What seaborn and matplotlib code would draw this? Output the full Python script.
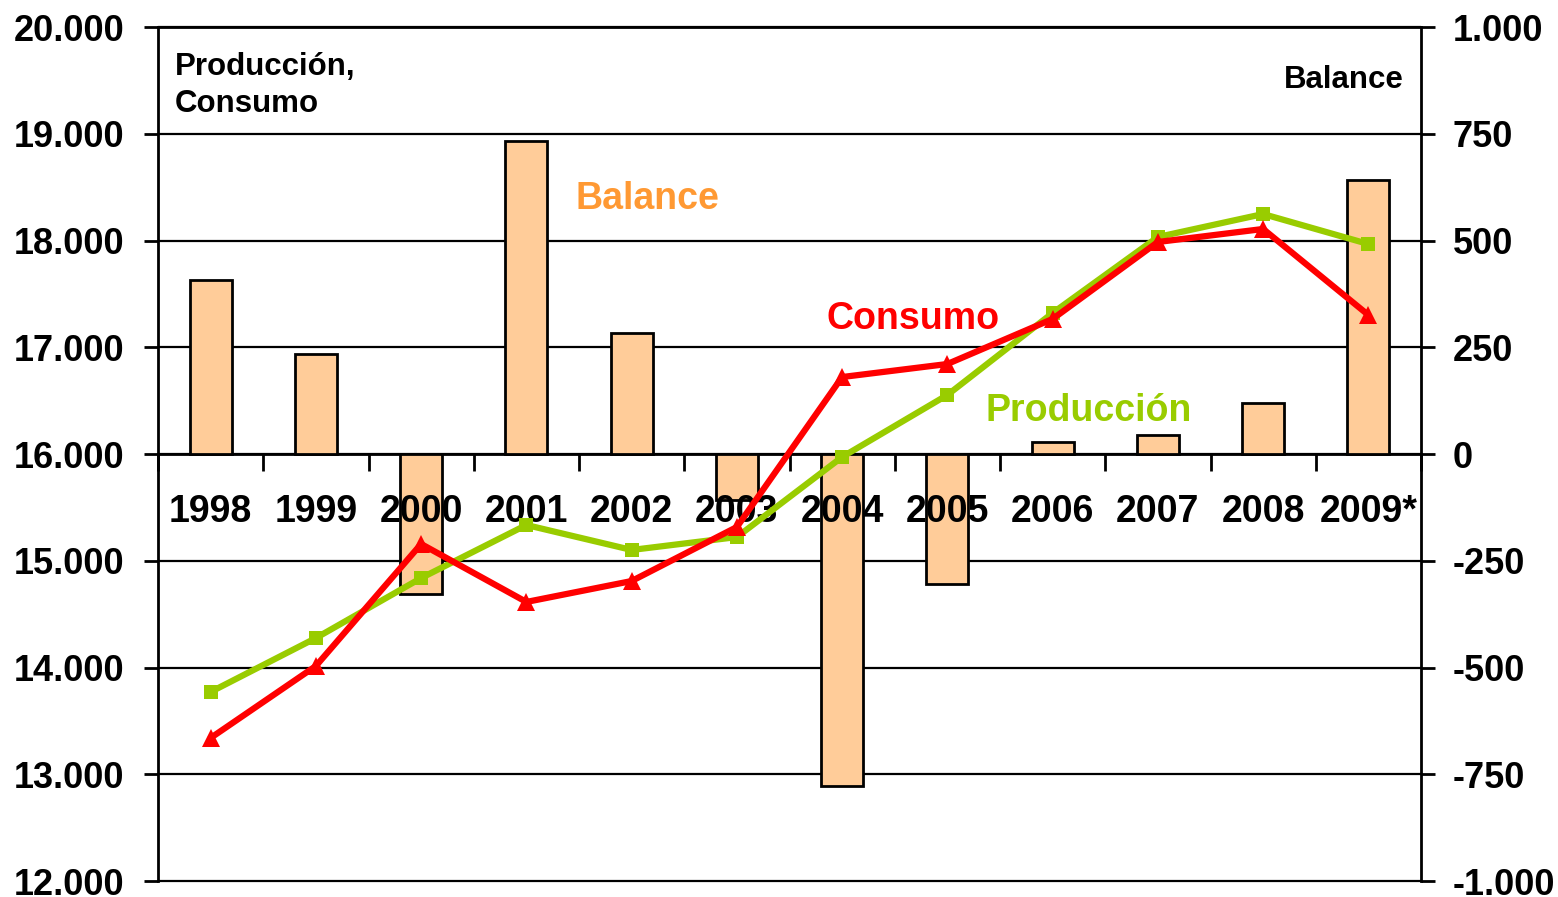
import numpy as np
import pandas as pd
import matplotlib
matplotlib.use("Agg")
import matplotlib.pyplot as plt
import matplotlib.ticker as mticker
import seaborn as sns

# ---- data ----
years = ["1998", "1999", "2000", "2001", "2002", "2003",
         "2004", "2005", "2006", "2007", "2008", "2009*"]
balance = [408, 234, -328, 733, 283, -108, -778, -304, 28, 44, 119, 642]
produccion = [13771, 14276, 14838, 15335, 15101, 15222,
              15972, 16553, 17321, 18033, 18248, 17967]
consumo = [13340, 14014, 15157, 14614, 14810, 15316,
           16721, 16843, 17265, 17986, 18108, 17302]
left_ticks = [12000, 13000, 14000, 15000, 16000, 17000, 18000, 19000, 20000]
right_ticks = [-1000, -750, -500, -250, 0, 250, 500, 750, 1000]

sns.set_theme(style="white")
plt.rcParams['font.family'] = ['Liberation Sans', 'DejaVu Sans']
plt.rcParams['font.weight'] = 'bold'

BAR = "#FFCC99"
GREEN = "#99CC00"
RED = "#FF0000"
ORANGE = "#FF9933"

fig = plt.figure(figsize=(15.58, 8.97), dpi=100)
axb = fig.add_axes([158/1558, 1-881/897, (1421-158)/1558, (881-27)/897])

df = pd.DataFrame({"year": years, "balance": balance,
                   "pos": np.arange(len(years)),
                   "prod": produccion, "cons": consumo})

# Bars on the primary axes (right-hand Balance scale)
sns.barplot(data=df, x="year", y="balance", ax=axb, color=BAR,
            edgecolor="black", linewidth=2, width=0.4, saturation=1,
            zorder=3)
axb.set_ylim(right_ticks[0], right_ticks[-1])
axb.set_xlim(-0.5, len(years) - 0.5)

# Lines on the twin axes (left-hand Produccion/Consumo scale)
axl = axb.twinx()
sns.lineplot(data=df, x="pos", y="prod", ax=axl, color=GREEN, lw=4.5,
             marker="s", markersize=10, markeredgewidth=0, zorder=4)
sns.lineplot(data=df, x="pos", y="cons", ax=axl, color=RED, lw=4.5,
             marker="^", markersize=13, markeredgewidth=0, zorder=5)
axl.set_ylim(left_ticks[0], left_ticks[-1])
axl.set_xlim(-0.5, len(years) - 0.5)
axl.set_xlabel("")
axl.set_ylabel("")
axb.set_xlabel("")
axb.set_ylabel("")

# y axes placement
axl.yaxis.tick_left()
axb.yaxis.tick_right()
fmt = mticker.FuncFormatter(lambda v, p: f"{int(round(v)):,}".replace(",", "."))
axl.yaxis.set_major_locator(mticker.FixedLocator(left_ticks))
axb.yaxis.set_major_locator(mticker.FixedLocator(right_ticks))
axl.yaxis.set_major_formatter(fmt)
axb.yaxis.set_major_formatter(fmt)
axl.tick_params(axis="y", which="major", direction="out", length=10, width=2,
                pad=14, labelsize=26, color="black", labelcolor="black")
axb.tick_params(axis="y", which="major", direction="out", length=10, width=2,
                pad=13, labelsize=26, color="black", labelcolor="black")
for lab in axl.get_yticklabels() + axb.get_yticklabels():
    lab.set_fontweight("bold")

# grid (behind bars) from the bar axes
axb.yaxis.grid(True, color="black", linewidth=1.6)
axb.xaxis.grid(False)
for gl in axb.get_ygridlines():
    gl.set_clip_on(False)
axb.yaxis.set_zorder(0.5)   # grid lines behind the bars
axb.xaxis.set_zorder(6)     # year labels above the bars

# x axis at Balance = 0 with ticks at category boundaries
n = len(years)
axb.spines["bottom"].set_position(("data", 0))
axb.xaxis.set_major_locator(mticker.FixedLocator(np.arange(n + 1) - 0.5))
axb.xaxis.set_major_formatter(mticker.NullFormatter())
axb.xaxis.set_minor_locator(mticker.FixedLocator(np.arange(n)))
axb.xaxis.set_minor_formatter(mticker.FixedFormatter(years))
axb.tick_params(axis="x", which="major", direction="out", length=12, width=2,
                color="black", bottom=True)
axb.tick_params(axis="x", which="minor", length=0, pad=29, labelsize=27,
                labelcolor="black", bottom=True)
for lab in axb.get_xticklabels(minor=True):
    lab.set_fontweight("bold")

for s in ["left", "right", "top", "bottom"]:
    axb.spines[s].set_visible(True)
    axb.spines[s].set_color("black")
    axb.spines[s].set_linewidth(2)
for s in axl.spines.values():
    s.set_visible(False)
axl.grid(False)

# texts
def fx(px):
    return (px - 158) / (1421 - 158)

def fy(py):
    return (881 - py) / (881 - 27)

axb.text(fx(175), fy(75), "Producción,", transform=axb.transAxes,
         fontsize=22.5, fontweight="bold", color="black", va="baseline", ha="left")
axb.text(fx(175), fy(112), "Consumo", transform=axb.transAxes,
         fontsize=22.5, fontweight="bold", color="black", va="baseline", ha="left")
axb.text(fx(1404), fy(88), "Balance", transform=axb.transAxes,
         fontsize=22.5, fontweight="bold", color="black", va="baseline", ha="right")
axb.text(fx(575), fy(209), "Balance", transform=axb.transAxes,
         fontsize=27, fontweight="bold", color=ORANGE, va="baseline", ha="left")
axb.text(fx(827), fy(329), "Consumo", transform=axb.transAxes,
         fontsize=27, fontweight="bold", color=RED, va="baseline", ha="left")
axb.text(fx(985), fy(421), "Producción", transform=axb.transAxes,
         fontsize=27, fontweight="bold", color=GREEN, va="baseline", ha="left")

fig.savefig("out.png", dpi=100, facecolor="white")
